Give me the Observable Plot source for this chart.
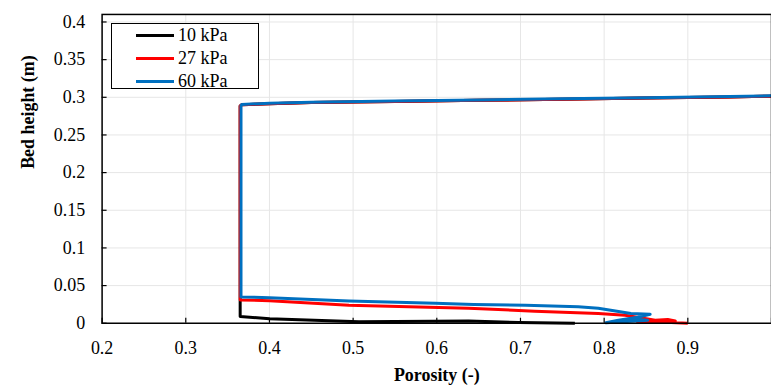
<!DOCTYPE html>
<html>
<head>
<meta charset="utf-8">
<script src="https://cdn.jsdelivr.net/npm/d3@7"></script>
<script src="https://cdn.jsdelivr.net/npm/@observablehq/plot@0.6"></script>
<style>
  html, body { margin: 0; padding: 0; background: #fff; overflow: hidden; }
  #wrap { position: relative; width: 771px; height: 387px; overflow: hidden; }
  #wrap svg, #wrap svg text { font-family: "Liberation Serif", "Times New Roman", serif !important; }
  #legend { position: absolute; left: 111px; top: 23px; width: 146px; height: 64px;
            border: 1.5px solid #000; background: #fff; font-family: "Liberation Serif", serif; font-size: 18px; }
  .row { position: absolute; left: 0; height: 23px; display: flex; align-items: center; }
  .sw { width: 38px; height: 3px; margin-left: 24px; margin-right: 4px; }
</style>
</head>
<body>
<div id="wrap"></div>
<script>
const seriesNames = ["10 kPa", "27 kPa", "60 kPa"];
const seriesColors = ["#000000", "#ff0000", "#0070c0"];

// 10 kPa
const por10 = [1.0, 0.95, 0.85, 0.75, 0.65, 0.55, 0.45, 0.40, 0.367, 0.365, 0.365, 0.40, 0.507, 0.638, 0.698, 0.765];
const h10   = [0.3015, 0.3005, 0.299, 0.2975, 0.296, 0.2945, 0.293, 0.2915, 0.29, 0.2885, 0.009, 0.006, 0.002, 0.003, 0.001, 0.0];
// 27 kPa
const por27 = [1.0, 0.95, 0.85, 0.75, 0.65, 0.55, 0.45, 0.40, 0.367, 0.365, 0.365, 0.40, 0.495, 0.638, 0.717, 0.793, 0.825, 0.845, 0.861, 0.876, 0.885, 0.84, 0.86, 0.9];
const h27   = [0.3015, 0.3005, 0.299, 0.2975, 0.296, 0.2945, 0.293, 0.2915, 0.29, 0.2885, 0.031, 0.030, 0.024, 0.020, 0.016, 0.013, 0.0106, 0.007, 0.004, 0.005, 0.003, 0.001, 0.002, 0.0];
// 60 kPa
const por60 = [1.0, 0.95, 0.85, 0.75, 0.65, 0.55, 0.45, 0.40, 0.367, 0.366, 0.366, 0.40, 0.495, 0.598, 0.644, 0.706, 0.769, 0.793, 0.832, 0.855, 0.84, 0.817, 0.802, 0.823, 0.852, 0.83];
const h60   = [0.302, 0.301, 0.2995, 0.298, 0.2965, 0.295, 0.2935, 0.292, 0.2905, 0.289, 0.035, 0.034, 0.0295, 0.0265, 0.025, 0.024, 0.022, 0.020, 0.013, 0.012, 0.008, 0.004, 0.0008, 0.002, 0.004, 0.006];

const xTicks = [0.2, 0.3, 0.4, 0.5, 0.6, 0.7, 0.8, 0.9, 1.0];
const yTicks = [0, 0.05, 0.1, 0.15, 0.2, 0.25, 0.3, 0.35, 0.4];

const toRows = (por, h, name) => por.map((p, i) => ({porosity: p, height: h[i], series: name}));
const data = [toRows(por10, h10, seriesNames[0]), toRows(por27, h27, seriesNames[1]), toRows(por60, h60, seriesNames[2])];

const font = "Liberation Serif";
const fmt = d => d === 0 ? "0" : String(+d.toFixed(2));

const chart = Plot.plot({
  width: 774, height: 387,
  marginLeft: 102, marginRight: 0, marginTop: 14, marginBottom: 63,
  style: "font-family: 'Liberation Serif', serif; font-size: 18px; color: #000; background: #fff; overflow: visible;",
  x: {domain: [0.2, 1.0], ticks: xTicks},
  y: {domain: [0, 0.41], ticks: yTicks},
  color: {domain: seriesNames, range: seriesColors},
  marks: [
    Plot.gridX(xTicks, {stroke: "#e6e6e6", strokeOpacity: 1, strokeWidth: 1}),
    Plot.gridY(yTicks.filter(d => d > 0), {stroke: "#e6e6e6", strokeOpacity: 1, strokeWidth: 1}),
    ...data.map(rows => Plot.line(rows, {x: "porosity", y: "height", stroke: "series", strokeWidth: 3, strokeLinejoin: "round", strokeLinecap: "butt"})),
    Plot.frame({stroke: "#000", strokeWidth: 1.5}),
    Plot.axisX(xTicks.filter(d => d < 1), {tickSize: 0, tickPadding: 18, tickFormat: fmt, fontSize: 18, fontFamily: font, label: null}),
    Plot.axisX(xTicks, {tickSize: 5, dy: -5, text: null, stroke: "#000", strokeWidth: 1.2, label: null}),
    Plot.axisY(yTicks, {tickSize: 0, tickPadding: 17, tickFormat: fmt, fontSize: 18, fontFamily: font, label: null}),
    Plot.axisY(yTicks, {tickSize: 5, dx: 5, text: null, stroke: "#000", strokeWidth: 1.2, label: null}),
    Plot.text(["Porosity (-)"], {frameAnchor: "bottom", dy: 58, text: d => d, fontWeight: "bold", fontSize: 18, fontFamily: font}),
    Plot.text(["Bed height (m)"], {frameAnchor: "left", dx: -74, text: d => d, fontWeight: "bold", fontSize: 18, fontFamily: font, rotate: -90})
  ]
});

const wrap = document.getElementById("wrap");
wrap.appendChild(chart);

const legend = document.createElement("div");
legend.id = "legend";
seriesNames.forEach((name, i) => {
  const row = document.createElement("div");
  row.className = "row";
  row.style.top = (0 + i * 23) + "px";
  const sw = document.createElement("div");
  sw.className = "sw";
  sw.style.background = seriesColors[i];
  const label = document.createElement("span");
  label.textContent = name;
  row.appendChild(sw);
  row.appendChild(label);
  legend.appendChild(row);
});
wrap.appendChild(legend);
</script>
</body>
</html>
